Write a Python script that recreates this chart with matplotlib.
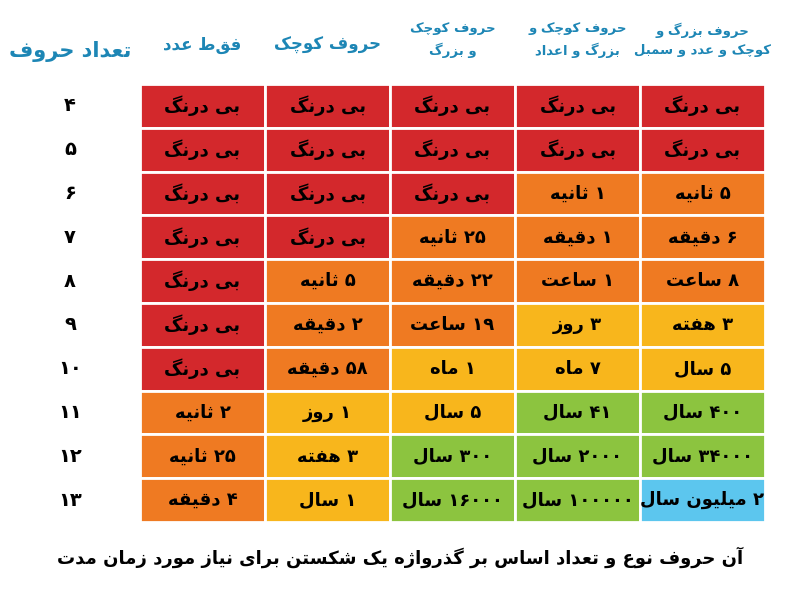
import matplotlib
matplotlib.use("Agg")
import matplotlib.pyplot as plt
from matplotlib.patches import Rectangle

# --- data ---
row_labels = ["۴", "۵", "۶", "۷", "۸", "۹", "۱۰", "۱۱", "۱۲", "۱۳"]
col_labels = ["فقط عدد", "حروف کوچک", "حروف کوچک\nو بزرگ",
              "حروف کوچک و\nبزرگ و اعداد", "حروف بزرگ و\nکوچک و عدد و سمبل"]
corner_label = "تعداد حروف"
times = [
    ["بی درنگ", "بی درنگ", "بی درنگ", "بی درنگ", "بی درنگ"],
    ["بی درنگ", "بی درنگ", "بی درنگ", "بی درنگ", "بی درنگ"],
    ["بی درنگ", "بی درنگ", "بی درنگ", "۱ ثانیه", "۵ ثانیه"],
    ["بی درنگ", "بی درنگ", "۲۵ ثانیه", "۱ دقیقه", "۶ دقیقه"],
    ["بی درنگ", "۵ ثانیه", "۲۲ دقیقه", "۱ ساعت", "۸ ساعت"],
    ["بی درنگ", "۲ دقیقه", "۱۹ ساعت", "۳ روز", "۳ هفته"],
    ["بی درنگ", "۵۸ دقیقه", "۱ ماه", "۷ ماه", "۵ سال"],
    ["۲ ثانیه", "۱ روز", "۵ سال", "۴۱ سال", "۴۰۰ سال"],
    ["۲۵ ثانیه", "۳ هفته", "۳۰۰ سال", "۲۰۰۰ سال", "۳۴۰۰۰ سال"],
    ["۴ دقیقه", "۱ سال", "۱۶۰۰۰ سال", "۱۰۰۰۰۰ سال", "۲ میلیون سال"],
]
# strength level per cell: 0 red, 1 orange, 2 yellow, 3 green, 4 blue
levels = [
    [0, 0, 0, 0, 0],
    [0, 0, 0, 0, 0],
    [0, 0, 0, 1, 1],
    [0, 0, 1, 1, 1],
    [0, 1, 1, 1, 1],
    [0, 1, 1, 2, 2],
    [0, 1, 2, 2, 2],
    [1, 2, 2, 3, 3],
    [1, 2, 3, 3, 3],
    [1, 2, 3, 3, 4],
]
caption = "مدت زمان مورد نیاز برای شکستن یک گذرواژه بر اساس تعداد  و نوع حروف آن"

palette = ["#d3282c", "#ef7a22", "#f8b61c", "#8cc43f", "#5cc6ee"]

# --- tiny Persian shaper (isolated, final, initial, medial) ---
F = {
    "ا": (0xFE8D, 0xFE8E), "آ": (0xFE81, 0xFE82), "د": (0xFEA9, 0xFEAA),
    "ذ": (0xFEAB, 0xFEAC), "ر": (0xFEAD, 0xFEAE), "ز": (0xFEAF, 0xFEB0),
    "ژ": (0xFB8A, 0xFB8B), "و": (0xFEED, 0xFEEE),
    "ب": (0xFE8F, 0xFE90, 0xFE91, 0xFE92), "پ": (0xFB56, 0xFB57, 0xFB58, 0xFB59),
    "ت": (0xFE95, 0xFE96, 0xFE97, 0xFE98), "ث": (0xFE99, 0xFE9A, 0xFE9B, 0xFE9C),
    "چ": (0xFB7A, 0xFB7B, 0xFB7C, 0xFB7D), "ح": (0xFEA1, 0xFEA2, 0xFEA3, 0xFEA4),
    "س": (0xFEB1, 0xFEB2, 0xFEB3, 0xFEB4), "ش": (0xFEB5, 0xFEB6, 0xFEB7, 0xFEB8),
    "ع": (0xFEC9, 0xFECA, 0xFECB, 0xFECC), "ف": (0xFED1, 0xFED2, 0xFED3, 0xFED4),
    "ق": (0xFED5, 0xFED6, 0xFED7, 0xFED8), "ک": (0xFB8E, 0xFB8F, 0xFB90, 0xFB91),
    "گ": (0xFB92, 0xFB93, 0xFB94, 0xFB95), "ل": (0xFEDD, 0xFEDE, 0xFEDF, 0xFEE0),
    "م": (0xFEE1, 0xFEE2, 0xFEE3, 0xFEE4), "ن": (0xFEE5, 0xFEE6, 0xFEE7, 0xFEE8),
    "ه": (0xFEE9, 0xFEEA, 0xFEEB, 0xFEEC), "ی": (0xFBFC, 0xFBFD, 0xFBFE, 0xFBFF),
}


def shape_line(s):
    out = []
    for i, c in enumerate(s):
        if c not in F:
            out.append(c)
            continue
        prev = s[i - 1] if i > 0 else ""
        nxt = s[i + 1] if i + 1 < len(s) else ""
        jp = prev in F and len(F[prev]) == 4
        jn = len(F[c]) == 4 and nxt in F
        f = F[c]
        if jp and jn:
            out.append(chr(f[3]))
        elif jp:
            out.append(chr(f[1]))
        elif jn:
            out.append(chr(f[2]))
        else:
            out.append(chr(f[0]))
    # visual order: reverse, but keep digit runs left-to-right
    rev = out[::-1]
    res, run = [], []
    for c in rev:
        if c.isdigit():
            run.append(c)
        else:
            res.extend(run[::-1]); run = []
            res.append(c)
    res.extend(run[::-1])
    return "".join(res)


def fa(s):
    return "\n".join(shape_line(l) for l in s.split("\n"))


fig = plt.figure(figsize=(8, 6), dpi=100)
ax = fig.add_axes([0, 0, 1, 1])
ax.set_xlim(0, 800)
ax.set_ylim(600, 0)
ax.axis("off")

x0, cw = 140, 125
y0, rh = 84, 43.8
head_col = "#1d86b5"

ax.text(70, 52, fa(corner_label), ha="center", va="center", fontsize=15,
        fontweight="bold", color=head_col)
for j, lab in enumerate(col_labels):
    ax.text(x0 + cw * (j + 0.5), 45 if j < 2 else 40, fa(lab), ha="center",
            va="center", fontsize=12 if j < 2 else 9.5, fontweight="bold",
            color=head_col, linespacing=1.6)

for i, rl in enumerate(row_labels):
    yc = y0 + rh * (i + 0.5)
    ax.text(70, yc, rl, ha="center", va="center", fontsize=14, fontweight="bold")
    for j in range(5):
        ax.add_patch(Rectangle((x0 + cw * j, y0 + rh * i), cw, rh,
                               facecolor=palette[levels[i][j]],
                               edgecolor="white", linewidth=2))
        ax.text(x0 + cw * (j + 0.5), yc, fa(times[i][j]), ha="center",
                va="center", fontsize=13, fontweight="bold", color="black")

# caption words appear left-to-right in the reference
cap = " ".join(shape_line(w) for w in caption.split())
ax.text(400, 557, cap, ha="center", va="center", fontsize=13, fontweight="bold")

fig.savefig("out.png", dpi=100)
